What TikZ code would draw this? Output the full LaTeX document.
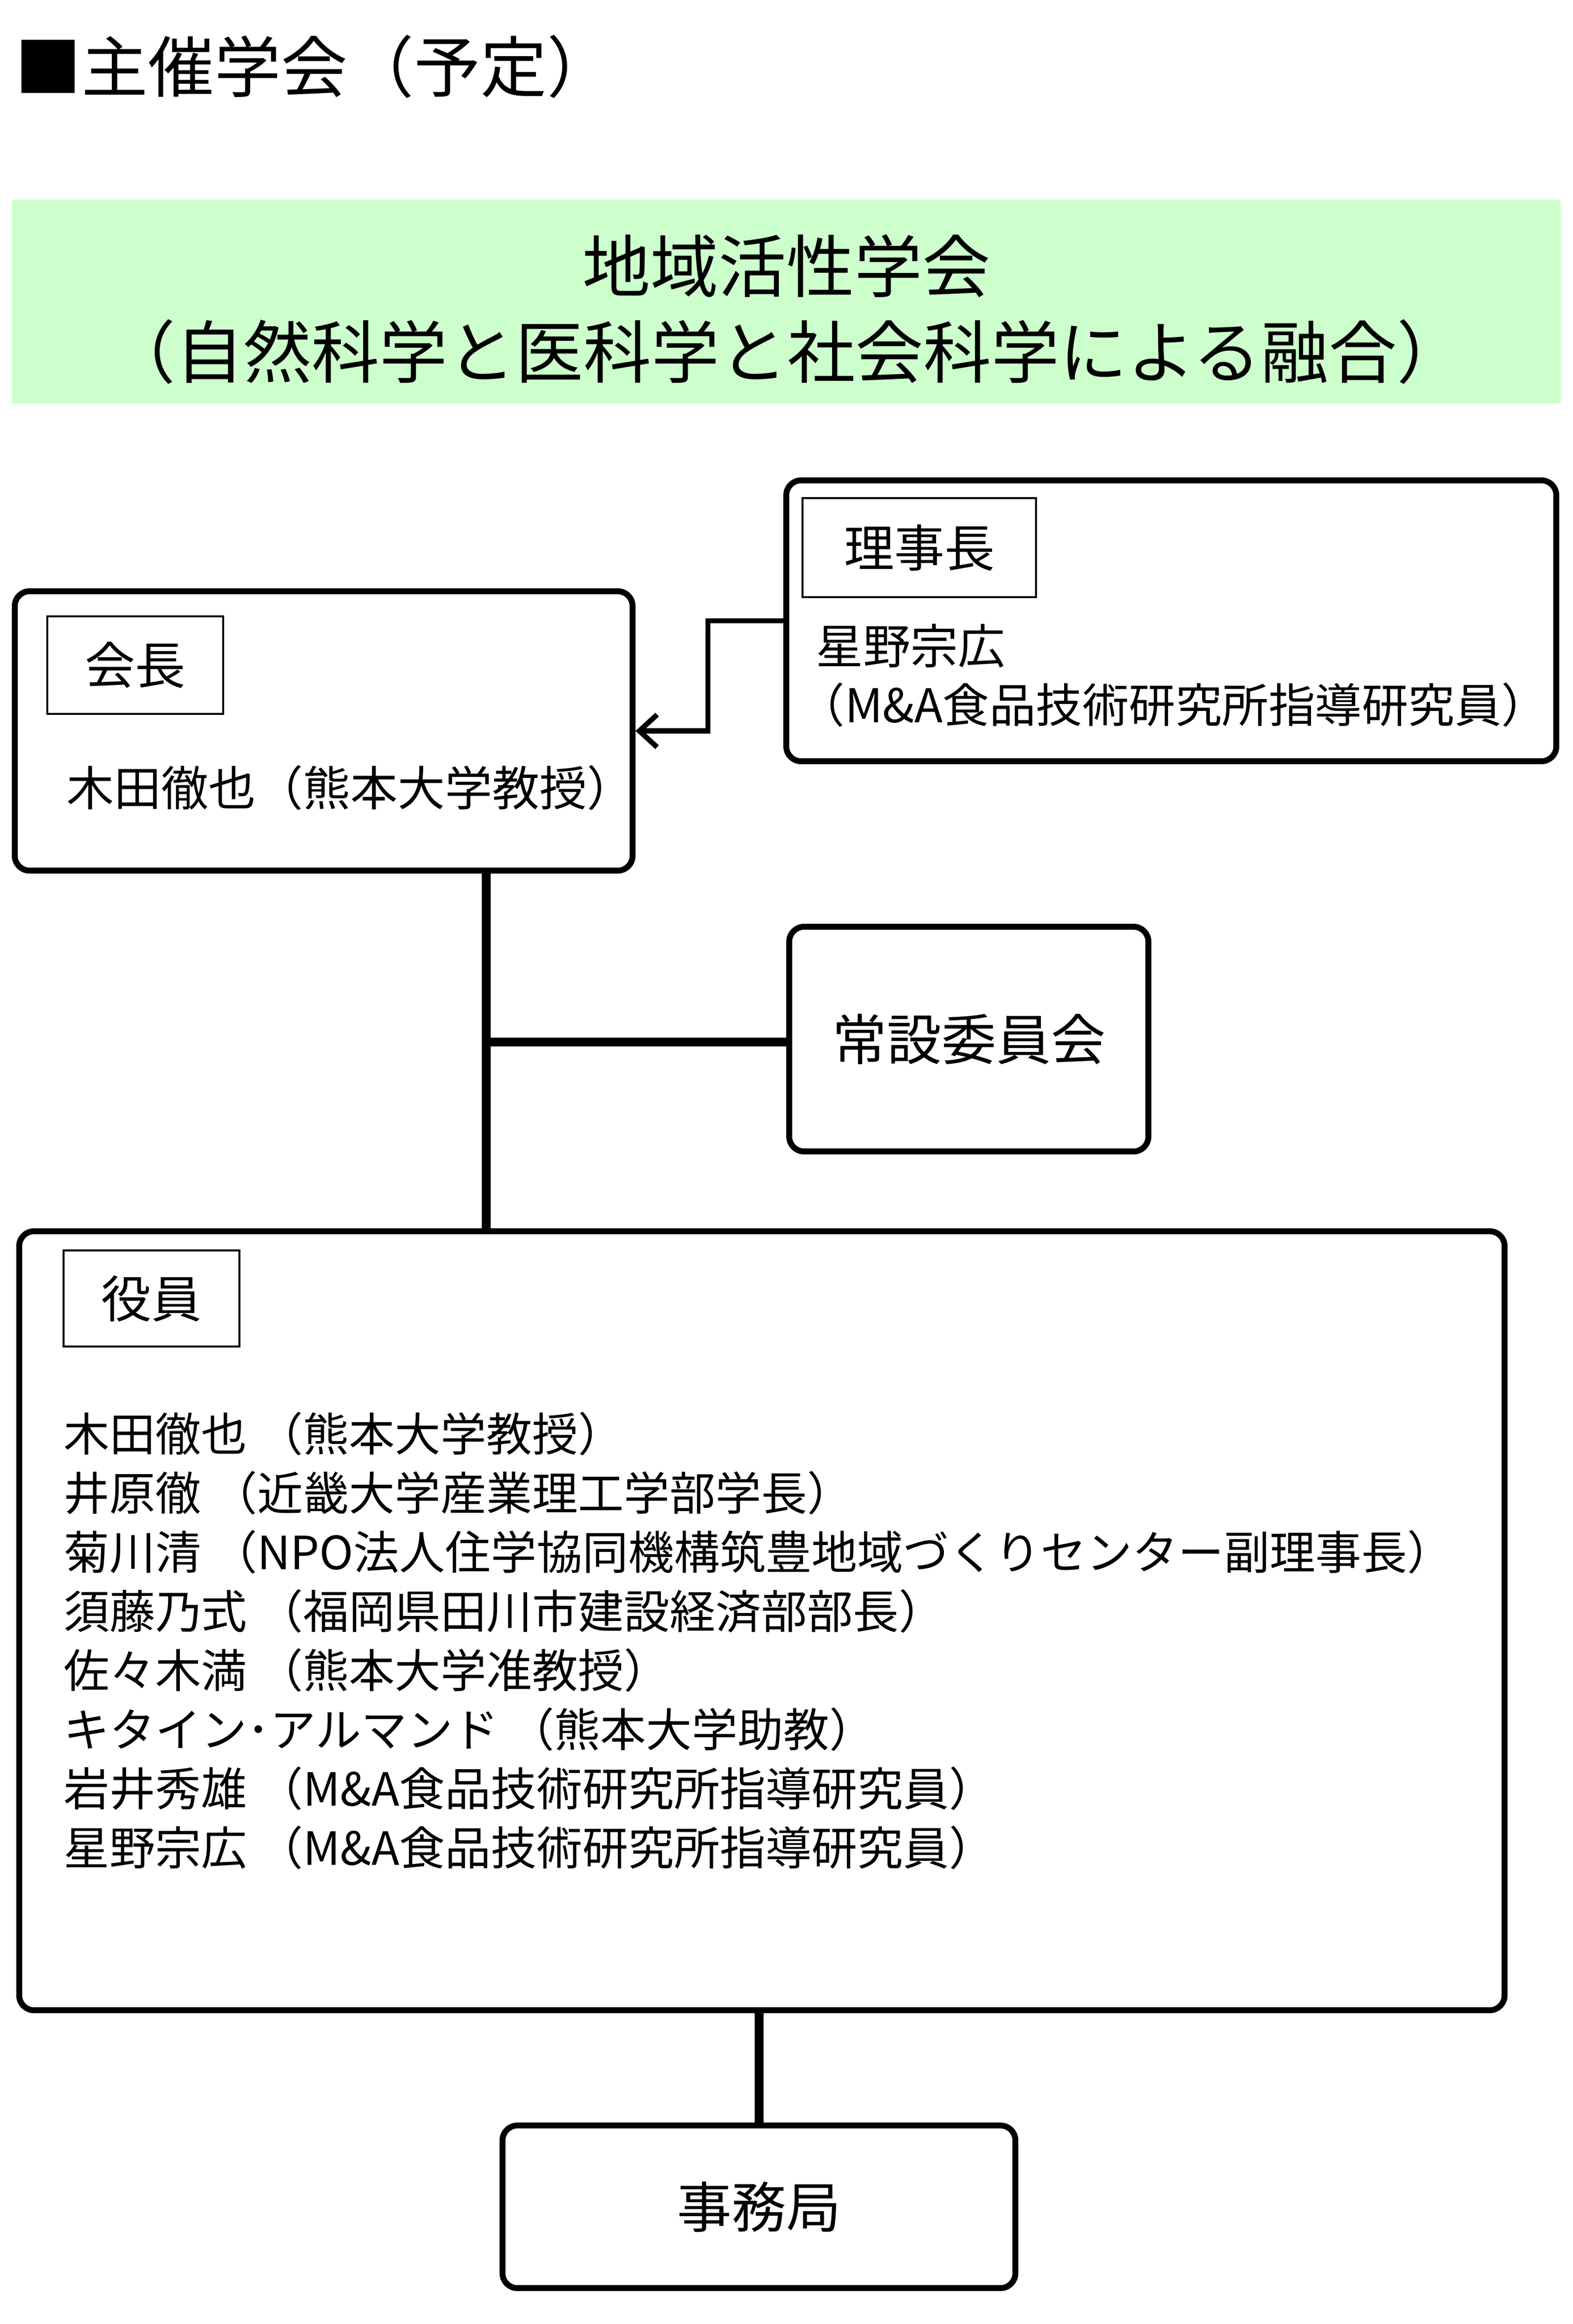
\documentclass[tikz,border=0pt]{standalone}
\usepackage{fontspec}
\setmainfont{Noto Sans CJK JP}
\usetikzlibrary{arrows.meta}
\definecolor{band}{HTML}{CCFFCC}
\tikzset{
 bigbox/.style={draw,line width=4pt,rounded corners=10pt,inner sep=0pt},
 lbl/.style={draw,line width=1.5pt,inner sep=0pt,font=\fontsize{34}{38}\selectfont},
 txt/.style={inner sep=0pt,anchor=west,font=\fontsize{31}{36}\selectfont},
 conn/.style={line width=6pt}
}
\begin{document}
\begin{tikzpicture}[x=1pt,y=-1pt]
\useasboundingbox (0,0) rectangle (1064.3,1572.3);
\node[inner sep=0pt,anchor=west,font=\fontsize{45}{50}\selectfont] (title) at (10,45) {■主催学会（予定）};
\fill[band] (8,135) rectangle (1056,273);
\node[inner sep=0pt,font=\fontsize{46}{50}\selectfont] (g1) at (532,180) {地域活性学会};
\node[inner sep=0pt,font=\fontsize{46}{50}\selectfont] (g2) at (532,238) {（自然科学と医科学と社会科学による融合）};
% 理事長
\node[bigbox,minimum width=521pt,minimum height=190pt] (riji) at (792.5,420) {};
\node[lbl,minimum width=158pt,minimum height=67pt] (rijil) at (622,370.5) {理事長};
\node[txt,font=\fontsize{32}{36}\selectfont] (r1) at (552,437) {星野宗広};
\node[txt,font=\fontsize{31.5}{36}\selectfont] (r2) at (540,477) {（M\&A食品技術研究所指導研究員）};
% 会長
\node[bigbox,minimum width=418pt,minimum height=189pt] (kai) at (219,494.5) {};
\node[lbl,minimum width=119pt,minimum height=66pt] (kail) at (91.5,450) {会長};
\node[txt,font=\fontsize{32}{36}\selectfont] (k1) at (45,533) {木田徹也（熊本大学教授）};
\draw[line width=3.5pt,-{Straight Barb[length=12pt,width=22pt]}] (riji.west) -- ++(-51,0) |- (kai.east);
% 常設委員会
\node[bigbox,minimum width=243pt,minimum height=152pt,font=\fontsize{37}{40}\selectfont] (jo) at (655.5,703) {常設委員会};
% 役員
\node[bigbox,minimum width=1005pt,minimum height=527pt] (yak) at (515.5,1096.5) {};
\node[lbl,minimum width=119pt,minimum height=65pt] (yakl) at (102.5,878.5) {役員};
\node[txt] (y1) at (43,970) {木田徹也 （熊本大学教授）};
\node[txt] (y2) at (43,1010) {井原徹 （近畿大学産業理工学部学長）};
\node[txt] (y3) at (43,1050) {菊川清 （NPO法人住学協同機構筑豊地域づくりセンター副理事長）};
\node[txt] (y4) at (43,1090) {須藤乃式 （福岡県田川市建設経済部部長）};
\node[txt] (y5) at (43,1130) {佐々木満 （熊本大学准教授）};
\node[txt] (y6) at (43,1170) {キタイン･アルマンド （熊本大学助教）};
\node[txt] (y7) at (43,1210) {岩井秀雄 （M\&A食品技術研究所指導研究員）};
\node[txt] (y8) at (43,1250) {星野宗広 （M\&A食品技術研究所指導研究員）};
% 事務局
\node[bigbox,minimum width=347pt,minimum height=110pt,font=\fontsize{37}{40}\selectfont] (jim) at (513.5,1493) {事務局};
% connectors
\draw[conn] (kai.south -| 329,0) -- (yak.north -| 329,0);
\coordinate (jn) at (329,705);
\draw[conn] (jn) -- (jo.west |- jn);
\draw[conn] (yak.south -| jim.north) -- (jim.north);
\end{tikzpicture}
\end{document}
